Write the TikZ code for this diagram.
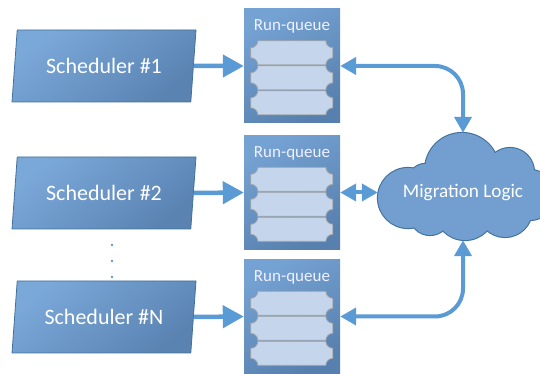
\documentclass[tikz,border=0pt]{standalone}
\usepackage{fontspec}
\setmainfont{Carlito}
\usetikzlibrary{shapes.geometric,arrows.meta,calc}
\definecolor{arrowblue}{HTML}{5B9BD5}
\definecolor{schedL}{HTML}{7AA8D9}
\definecolor{schedD}{HTML}{5A83B2}
\definecolor{schedLine}{HTML}{41719C}
\definecolor{rqL}{HTML}{74A2D3}
\definecolor{rqD}{HTML}{5880AE}
\definecolor{slotFill}{HTML}{C5D5EB}
\definecolor{slotLine}{HTML}{A3A6A8}
\definecolor{cloudFill}{HTML}{729FCF}
\definecolor{cloudLine}{HTML}{41719C}
\tikzset{
  sched/.style={trapezium, trapezium left angle=76.7, trapezium right angle=103.3,
    trapezium stretches body, minimum width=184pt, minimum height=72pt,
    draw=schedLine, line width=0.8pt, top color=schedL, bottom color=schedD, shading angle=40,
    text=white, font=\fontsize{22}{24}\selectfont},
  rqbox/.style={rectangle, minimum width=96pt, minimum height=114pt, inner sep=0pt,
    top color=rqL, bottom color=rqD, shading angle=30},
  rqtitle/.style={text=white!94!blue, font=\fontsize{17}{19}\selectfont, inner sep=0pt},
  schedarrow/.style={draw=arrowblue, line width=4.5pt, -{Triangle[length=21pt,width=22pt]}},
  migarrow/.style={draw=arrowblue, line width=4pt, rounded corners=28pt,
    {Triangle[length=16pt,width=17pt]}-{Triangle[length=16pt,width=17pt]}},
  cloudbox/.style={rectangle, minimum width=170pt, minimum height=107pt, inner sep=0pt},
  cloudtext/.style={text=white, font=\fontsize{19.2}{21}\selectfont},
  ticket/.pic={
    \draw[fill=slotFill, draw=slotLine, line width=0.8pt]
      (7,0) -- (75,0) arc[start angle=180, end angle=90, radius=7]
      -- (82,17) arc[start angle=270, end angle=180, radius=7]
      -- (7,24) arc[start angle=0, end angle=-90, radius=7]
      -- (0,7) arc[start angle=90, end angle=0, radius=7] -- cycle;
  }
}
\begin{document}
\begin{tikzpicture}[x=1pt,y=1pt]
\useasboundingbox (0,0) rectangle (540,374);

% schedulers
\node[sched] (s1) at (104,308) {Scheduler \#1};
\node[sched] (s2) at (104,181) {Scheduler \#2};
\node[sched] (sn) at (104,57) {Scheduler \#N};

% dots
\fill[arrowblue] (112,129) circle (1.4);
\fill[arrowblue] (112,113) circle (1.4);
\fill[arrowblue] (112,97) circle (1.4);

% run-queues
\node[rqbox] (rq1) at (292,308) {};
\node[rqbox] (rq2) at (292,181.5) {};
\node[rqbox] (rq3) at (292,57.5) {};
\foreach \b/\t in {rq1/t1,rq2/t2,rq3/t3}{
  \node[rqtitle] (\t) at ($(\b.north)+(0,-18)$) {Run-queue};
  \foreach \k in {56,81,106}
    \pic at ($(\b.north west)+(7,-\k)$) {ticket};
}

% cloud
\node[cloudbox] (cloud) at (463,187.5) {};
\begin{scope}[shift={(cloud.center)}]
  \foreach \p/\r in {{(-1,16.5)}/37,{(47,14.5)}/24,{(67,-8.5)}/25,{(-38,6.5)}/16,
                     {(-55,-11.5)}/30,{(-33,-28.5)}/20,{(2,-23.5)}/30,{(42,-23.5)}/27}
    \draw[cloudLine, line width=2.2pt] \p circle (\r);
  \foreach \p/\r in {{(-1,16.5)}/37,{(47,14.5)}/24,{(67,-8.5)}/25,{(-38,6.5)}/16,
                     {(-55,-11.5)}/30,{(-33,-28.5)}/20,{(2,-23.5)}/30,{(42,-23.5)}/27}
    \fill[cloudFill] \p circle (\r);
  \fill[cloudFill] (0,-8.5) ellipse [x radius=60, y radius=35];
\end{scope}
\node[cloudtext] (ml) at (463,181) {Migration Logic};

% connectors
\draw[schedarrow] (s1.east) -- (rq1.west);
\draw[schedarrow] (s2.east) -- (rq2.west);
\draw[schedarrow] (sn.east) -- (rq3.west);
\draw[migarrow] (rq1.east) -| (cloud.north);
\draw[migarrow] (rq2.east) -- (rq2.east -| cloud.west);
\draw[migarrow] (rq3.east) -| (cloud.south);
\end{tikzpicture}
\end{document}
